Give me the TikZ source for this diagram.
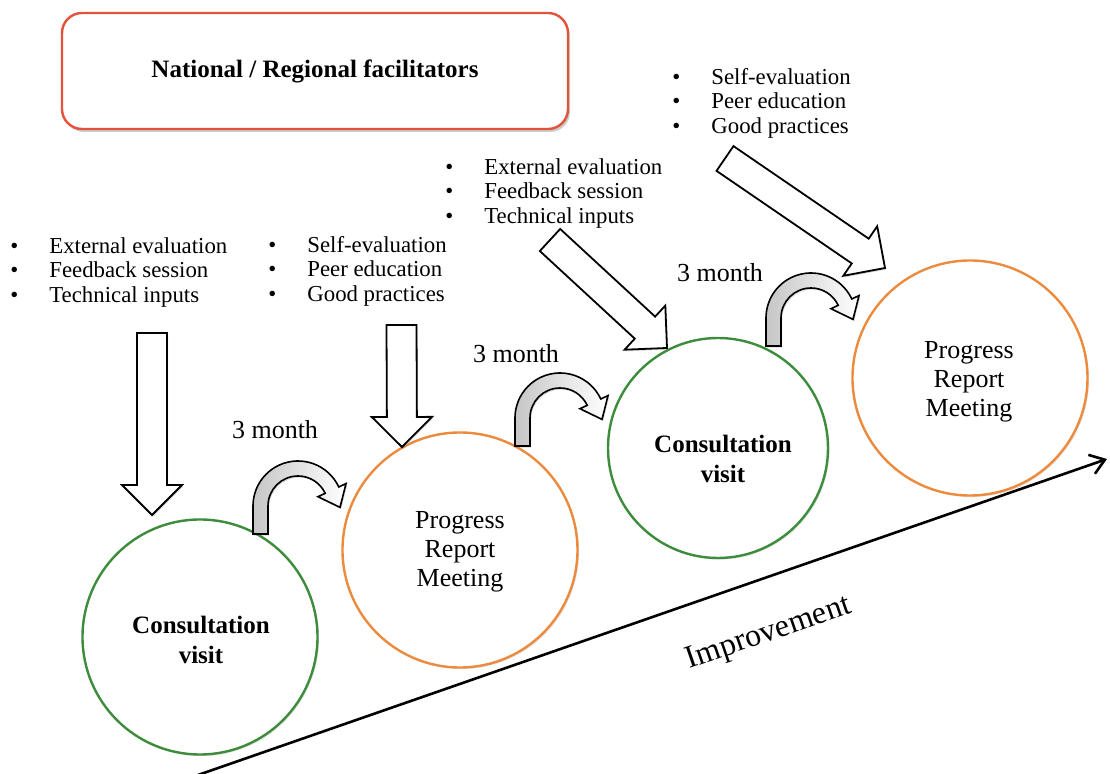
\documentclass[tikz,border=0pt]{standalone}
\usepackage{fontspec}
\setmainfont{Liberation Serif}
\usetikzlibrary{calc, shadows, arrows.meta}

\definecolor{boxred}{HTML}{E2533C}
\definecolor{cvgreen}{HTML}{3C8C3C}
\definecolor{prmorange}{HTML}{EC8B3E}

\tikzstyle{facil} = [draw=boxred, line width=1.2pt, rounded corners=10pt,
fill=white, minimum width=253pt, minimum height=58pt,
font=\fontsize{12.5}{15}\selectfont\bfseries,
drop shadow={shadow xshift=1pt, shadow yshift=-1.5pt, opacity=0.4}]
\tikzstyle{visit} = [circle, draw=cvgreen, line width=1.2pt, fill=white, inner sep=0pt,
drop shadow={shadow xshift=0.8pt, shadow yshift=-0.8pt, opacity=0.2}]
\tikzstyle{meeting} = [circle, draw=prmorange, line width=1.2pt, fill=white, inner sep=0pt,
drop shadow={shadow xshift=0.8pt, shadow yshift=-0.8pt, opacity=0.2}]
\tikzstyle{visittext} = [align=center, font=\fontsize{12.5}{15}\selectfont\bfseries]
\tikzstyle{meetingtext} = [align=center, font=\fontsize{13}{14.5}\selectfont]
\tikzstyle{items} = [anchor=north west, inner sep=0pt, align=left,
font=\fontsize{11.4}{12.25}\selectfont]
\tikzstyle{period} = [font=\fontsize{13}{15}\selectfont]
\tikzstyle{block} = [draw=black, line width=0.9pt, fill=white, line join=miter,
drop shadow={shadow xshift=0.6pt, shadow yshift=-0.8pt, opacity=0.3}]
\tikzstyle{bendshape} = [draw=black, line width=0.8pt, left color=gray!45, right color=white,
drop shadow={shadow xshift=0.6pt, shadow yshift=-0.8pt, opacity=0.3}]

\newcommand{\itm}{\makebox[19.5pt][l]{\textbullet}}
\newcommand{\blockarrow}[2]{%
  \coordinate (hb) at ($(#2)!15pt!(#1)$);
  \draw[block] ($(#1)!7.5pt!90:(#2)$) -- ($(hb)!7.5pt!-90:(#1)$)
    -- ($(hb)!15pt!-90:(#1)$) -- (#2) -- ($(hb)!15pt!90:(#1)$)
    -- ($(hb)!7.5pt!90:(#1)$) -- ($(#1)!7.5pt!-90:(#2)$) -- cycle;}

\tikzset{pics/bendarrow/.style={code={
  \filldraw[bendshape] (180:45) -- ++(0,-28) -- ++(15,0) -- (180:30)
    arc[start angle=180, end angle=25, radius=30] -- (25:22)
    -- ($(25:37.5)+(-65:19)$) -- (25:53) -- (25:45)
    arc[start angle=25, end angle=180, radius=45] -- cycle;
}}}

\begin{document}
\begin{tikzpicture}[x=0.5pt, y=0.5pt]
        \useasboundingbox (0,0) rectangle (1110,-774);

        % Facilitadores
        \node[facil] (fac) at (315,-71) {National / Regional facilitators};

        % Listas de actividades
        \node[items] (lst1) at (10,-237) {\itm External evaluation\\ \itm Feedback session\\ \itm Technical inputs};
        \node[items] (lst2) at (268,-236) {\itm Self-evaluation\\ \itm Peer education\\ \itm Good practices};
        \node[items] (lst3) at (445,-158) {\itm External evaluation\\ \itm Feedback session\\ \itm Technical inputs};
        \node[items] (lst4) at (672,-68) {\itm Self-evaluation\\ \itm Peer education\\ \itm Good practices};

        % Etapas
        \node[visit, minimum size=117.5pt] (cv1) at (200,-637) {};
        \node[meeting, minimum size=117.5pt] (prm1) at (460,-550) {};
        \node[visit, minimum size=110pt] (cv2) at (718,-448) {};
        \node[meeting, minimum size=117.5pt] (prm2) at (970,-378) {};
        \node[visittext] (cv1t) at ($(cv1)+(1,-3)$) {Consultation\\visit};
        \node[meetingtext] (prm1t) at ($(prm1)+(0,-2)$) {Progress\\Report\\Meeting};
        \node[visittext] (cv2t) at ($(cv2)+(5,-11)$) {Consultation\\visit};
        \node[meetingtext] (prm2t) at ($(prm2)+(-1,-4)$) {Progress\\Report\\Meeting};

        % Flechas de bloque
        \coordinate (b1s) at (152,-333); \coordinate (b1e) at (152,-515);
        \coordinate (b2s) at (401.5,-325); \coordinate (b2e) at (402,-447);
        \coordinate (b3s) at (550,-240); \coordinate (b3e) at (667,-348);
        \coordinate (b4s) at (725,-158.5); \coordinate (b4e) at (885,-268);
        \blockarrow{b1s}{b1e}
        \blockarrow{b2s}{b2e}
        \blockarrow{b3s}{b3e}
        \blockarrow{b4s}{b4e}

        % Intervalos de 3 meses
        \node[period] (mon1) at (275,-430) {3 month};
        \node[period] (mon2) at (516,-354) {3 month};
        \node[period] (mon3) at (720,-273) {3 month};
        \pic at (298,-506) {bendarrow};
        \pic at (560,-418) {bendarrow};
        \pic at (811,-318) {bendarrow};

        % Mejora
        \coordinate (impa) at (198,-775);
        \coordinate (impb) at (1107,-459);
        \draw[line width=1.3pt, -{Straight Barb[length=7pt, width=10pt]}] (impa) -- (impb);
        \node[rotate=19, font=\fontsize{16}{18}\selectfont] (imp) at (769,-634) {Improvement};

    \end{tikzpicture}
\end{document}
